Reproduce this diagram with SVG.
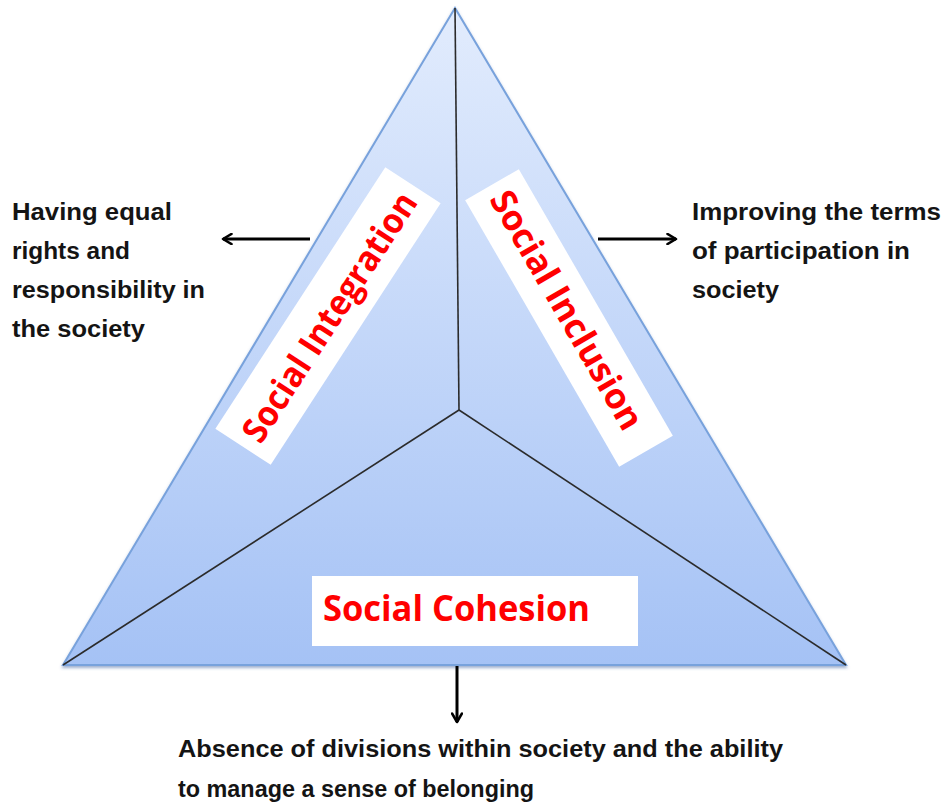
<svg xmlns="http://www.w3.org/2000/svg" width="944" height="805" viewBox="0 0 944 805">
  <defs>
    <linearGradient id="triFill" x1="0" y1="0" x2="0" y2="1">
      <stop offset="0" stop-color="#e2ecfd"/>
      <stop offset="1" stop-color="#a5c2f5"/>
    </linearGradient>
    <marker id="arrow" viewBox="0 0 12 12" refX="10" refY="6" markerWidth="12" markerHeight="12" markerUnits="userSpaceOnUse" orient="auto">
      <path d="M1.5,1 L10,6 L1.5,11" fill="none" stroke="#000" stroke-width="2.6" stroke-linecap="round" stroke-linejoin="round"/>
    </marker>
    <filter id="soft" x="-5%" y="-5%" width="110%" height="110%">
      <feDropShadow dx="0" dy="2" stdDeviation="1.5" flood-color="#3a5f9c" flood-opacity="0.5"/>
    </filter>
  </defs>
  <style>
    .label { font-family: "Liberation Sans", "Open Sans", sans-serif; font-weight: bold; font-size: 23px; fill: #141414; }
    .title { font-family: "Open Sans", "Liberation Sans", sans-serif; font-weight: bold; font-size: 35px; fill: #ff0000; }
    .box { fill: #ffffff; }
    .divider { stroke: #2b2b2b; stroke-width: 1.6; fill: none; }
    .connector { stroke: #000; stroke-width: 3; fill: none; marker-end: url(#arrow); }
  </style>

  <!-- main triangle with its three sectors -->
  <g id="triangle">
    <polygon points="455,8 63,665 846,665" fill="url(#triFill)" stroke="#78a2dc" stroke-width="2" filter="url(#soft)"/>
    <line class="divider" x1="455" y1="8" x2="459" y2="410"/>
    <line class="divider" x1="459" y1="410" x2="63" y2="665"/>
    <line class="divider" x1="459" y1="410" x2="846" y2="665"/>
  </g>

  <g id="social-integration" transform="translate(328,316) rotate(-57)">
    <rect class="box" x="-156" y="-33" width="312" height="66"/>
    <text class="title" x="0" y="14" text-anchor="middle" textLength="290" lengthAdjust="spacingAndGlyphs">Social Integration</text>
  </g>

  <g id="social-inclusion" transform="translate(569,318) rotate(60)">
    <rect class="box" x="-154" y="-31" width="308" height="62"/>
    <text class="title" x="-8" y="10" text-anchor="middle" textLength="270" lengthAdjust="spacingAndGlyphs">Social Inclusion</text>
  </g>

  <g id="social-cohesion">
    <rect class="box" x="312" y="576" width="326" height="70"/>
    <text class="title" x="323" y="621" textLength="267" lengthAdjust="spacingAndGlyphs">Social Cohesion</text>
  </g>

  <!-- arrows pointing to each description -->
  <g id="connectors">
    <line class="connector" x1="310" y1="239" x2="223" y2="239"/>
    <line class="connector" x1="598" y1="239" x2="676" y2="239"/>
    <line class="connector" x1="457" y1="666" x2="457" y2="722"/>
  </g>

  <g id="note-integration">
    <text class="label" x="12" y="220" textLength="160" lengthAdjust="spacingAndGlyphs">Having equal</text>
    <text class="label" x="12" y="259" textLength="118" lengthAdjust="spacingAndGlyphs">rights and</text>
    <text class="label" x="12" y="298" textLength="193" lengthAdjust="spacingAndGlyphs">responsibility in</text>
    <text class="label" x="12" y="337" textLength="133" lengthAdjust="spacingAndGlyphs">the society</text>
  </g>

  <g id="note-inclusion">
    <text class="label" x="692" y="220" textLength="249" lengthAdjust="spacingAndGlyphs">Improving the terms</text>
    <text class="label" x="692" y="259" textLength="218" lengthAdjust="spacingAndGlyphs">of participation in</text>
    <text class="label" x="692" y="298" textLength="87" lengthAdjust="spacingAndGlyphs">society</text>
  </g>

  <g id="note-cohesion">
    <text class="label" x="178" y="757" textLength="605" lengthAdjust="spacingAndGlyphs">Absence of divisions within society and the ability</text>
    <text class="label" x="178" y="797" textLength="356" lengthAdjust="spacingAndGlyphs">to manage a  sense of belonging</text>
  </g>
</svg>
